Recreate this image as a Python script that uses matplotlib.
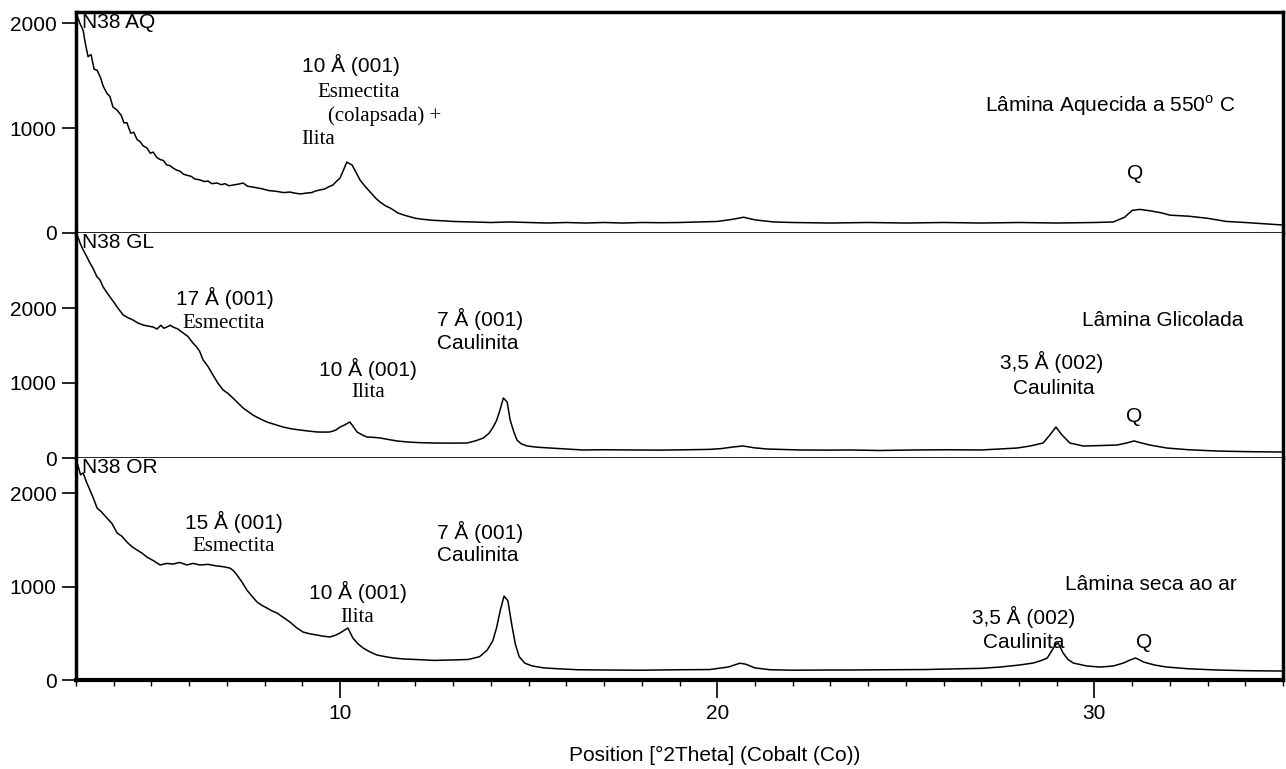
import numpy as np
import matplotlib
matplotlib.use("Agg")
import matplotlib.pyplot as plt
from matplotlib.ticker import MultipleLocator

plt.rcParams['font.family'] = ['Liberation Sans', 'DejaVu Sans']
plt.rcParams['mathtext.fontset'] = 'custom'
plt.rcParams['mathtext.rm'] = 'Liberation Sans'

# --- data ---
# N38 AQ (heated slide, 550 C)
aq_x = [3.00, 3.10, 3.19, 3.25, 3.32, 3.40, 3.48, 3.56, 3.65, 3.72,
        3.82, 3.90, 3.98, 4.09, 4.20, 4.27, 4.35, 4.45, 4.53, 4.62,
        4.70, 4.78, 4.88, 4.97, 5.05, 5.14, 5.23, 5.32, 5.40, 5.50,
        5.57, 5.66, 5.75, 5.85, 5.94, 6.05, 6.15, 6.29, 6.40, 6.50,
        6.60, 6.74, 6.85, 6.95, 7.05, 7.16, 7.30, 7.43, 7.55, 7.65,
        7.80, 7.95, 8.10, 8.22, 8.35, 8.50, 8.67, 8.80, 8.95, 9.12,
        9.25, 9.35, 9.47, 9.60, 9.70, 9.81, 9.90, 10.00, 10.08, 10.18,
        10.25, 10.32, 10.42, 10.53, 10.65, 10.80, 10.95, 11.06, 11.20, 11.33,
        11.45, 11.54, 11.70, 11.85, 12.00, 12.20, 12.50, 12.80, 13.00, 13.50,
        14.00, 14.50, 15.00, 15.50, 16.00, 16.50, 17.00, 17.50, 18.00, 18.50,
        19.00, 19.50, 20.00, 20.40, 20.70, 21.00, 21.50, 22.00, 23.00, 24.00,
        25.00, 26.00, 27.00, 28.00, 29.00, 30.00, 30.50, 30.80, 31.00, 31.20,
        31.50, 31.80, 32.00, 32.50, 33.00, 33.50, 34.00, 35.00]
aq_y = [2100, 2000, 1930, 1800, 1680, 1700, 1560, 1550, 1480, 1400,
        1330, 1300, 1200, 1170, 1120, 1050, 1050, 950, 960, 890,
        870, 830, 810, 760, 770, 720, 700, 690, 650, 640,
        620, 600, 590, 560, 550, 540, 515, 505, 490, 495,
        470, 476, 460, 470, 450, 457, 465, 476, 445, 440,
        430, 420, 405, 400, 395, 385, 390, 380, 372, 381,
        385, 400, 410, 420, 440, 457, 490, 524, 590, 676,
        660, 648, 580, 505, 450, 390, 330, 295, 260, 238,
        210, 190, 170, 155, 140, 130, 120, 115, 110, 105,
        100, 105, 100, 95, 100, 95, 100, 95, 100, 98,
        100, 105, 110, 130, 150, 125, 105, 100, 95, 100,
        95, 100, 95, 100, 95, 100, 105, 150, 215, 225,
        210, 190, 170, 160, 140, 110, 100, 76]

# N38 GL (glycolated slide)
gl_x = [3.00, 3.05, 3.12, 3.19, 3.27, 3.37, 3.45, 3.56, 3.63, 3.72,
        3.80, 3.90, 4.00, 4.09, 4.17, 4.25, 4.38, 4.51, 4.64, 4.78,
        4.90, 5.04, 5.15, 5.25, 5.33, 5.41, 5.50, 5.57, 5.70, 5.84,
        5.97, 6.10, 6.20, 6.28, 6.37, 6.50, 6.63, 6.76, 6.90, 7.03,
        7.16, 7.30, 7.43, 7.56, 7.69, 7.85, 8.06, 8.25, 8.49, 8.70,
        8.94, 9.15, 9.39, 9.55, 9.73, 9.88, 10.00, 10.12, 10.26, 10.35,
        10.45, 10.58, 10.71, 10.90, 11.06, 11.30, 11.51, 11.80, 12.10, 12.47,
        12.90, 13.37, 13.60, 13.80, 13.95, 14.06, 14.15, 14.24, 14.33, 14.43,
        14.51, 14.60, 14.69, 14.80, 14.96, 15.20, 15.57, 16.00, 16.44, 17.00,
        17.77, 18.50, 19.20, 19.80, 20.10, 20.42, 20.68, 21.00, 21.32, 22.19,
        23.00, 23.52, 24.30, 25.20, 26.17, 27.00, 27.95, 28.30, 28.64, 28.82,
        28.98, 29.14, 29.35, 29.70, 30.10, 30.60, 30.85, 31.05, 31.25, 31.47,
        31.92, 32.50, 33.25, 34.00, 34.50, 35.00]
gl_y = [2990, 2947, 2850, 2773, 2700, 2600, 2530, 2413, 2380, 2280,
        2220, 2147, 2080, 2013, 1960, 1907, 1870, 1840, 1800, 1773,
        1760, 1747, 1720, 1770, 1730, 1747, 1770, 1747, 1720, 1667,
        1620, 1533, 1480, 1420, 1307, 1220, 1107, 1000, 907, 860,
        800, 730, 667, 620, 573, 530, 480, 450, 413, 390,
        373, 360, 347, 345, 347, 370, 413, 440, 480, 420,
        347, 310, 280, 275, 267, 245, 227, 213, 205, 200,
        198, 200, 230, 267, 330, 413, 500, 640, 800, 747,
        507, 360, 240, 190, 160, 145, 133, 120, 107, 110,
        107, 105, 110, 115, 125, 147, 160, 135, 120, 107,
        105, 107, 100, 107, 110, 107, 133, 160, 200, 307,
        413, 307, 200, 160, 165, 173, 200, 227, 200, 173,
        133, 110, 93, 85, 82, 80]

# N38 OR (air-dried slide)
or_x = [3.00, 3.05, 3.12, 3.19, 3.28, 3.37, 3.46, 3.56, 3.68, 3.82,
        3.95, 4.09, 4.22, 4.35, 4.48, 4.62, 4.75, 4.88, 5.05, 5.23,
        5.40, 5.57, 5.75, 5.94, 6.10, 6.29, 6.50, 6.74, 6.90, 7.08,
        7.18, 7.27, 7.40, 7.53, 7.66, 7.80, 7.93, 8.06, 8.20, 8.33,
        8.50, 8.67, 8.85, 9.02, 9.20, 9.39, 9.55, 9.73, 9.88, 10.00,
        10.10, 10.21, 10.34, 10.47, 10.61, 10.80, 10.98, 11.20, 11.41, 11.70,
        12.00, 12.50, 13.00, 13.40, 13.70, 13.90, 14.05, 14.15, 14.25, 14.35,
        14.45, 14.55, 14.65, 14.75, 14.90, 15.10, 15.40, 15.80, 16.30, 17.00,
        18.00, 19.00, 19.80, 20.30, 20.60, 20.75, 21.00, 21.40, 22.00, 23.00,
        23.52, 24.50, 25.50, 26.17, 27.00, 27.50, 28.00, 28.38, 28.60, 28.75,
        28.88, 28.96, 29.04, 29.17, 29.30, 29.44, 29.80, 30.16, 30.50, 30.77,
        30.95, 31.09, 31.20, 31.30, 31.60, 31.92, 32.50, 33.25, 34.00, 35.00]
or_y = [2340, 2304, 2200, 2219, 2120, 2036, 1950, 1843, 1800, 1736,
        1680, 1576, 1540, 1479, 1430, 1393, 1360, 1318, 1280, 1233,
        1250, 1243, 1260, 1233, 1250, 1233, 1240, 1222, 1215, 1200,
        1170, 1125, 1050, 965, 900, 836, 800, 772, 740, 718,
        670, 622, 560, 514, 495, 482, 470, 461, 480, 504,
        530, 557, 450, 390, 343, 300, 268, 250, 236, 225,
        220, 210, 215, 220, 250, 320, 420, 560, 750, 900,
        850, 600, 380, 250, 180, 150, 130, 120, 110, 107,
        105, 110, 112, 140, 180, 170, 130, 110, 105, 107,
        107, 110, 112, 118, 125, 139, 160, 182, 210, 236,
        320, 375, 397, 289, 220, 182, 150, 139, 150, 182,
        215, 236, 215, 193, 160, 139, 120, 107, 100, 96]

sample_names = ["N38 AQ", "N38 GL", "N38 OR"]
y_tops = [2105, 3000, 2380]
x_major = [10, 20, 30]

SANS = 'Liberation Sans'
SERIF = 'Liberation Serif'
FS = 15

fig = plt.figure(figsize=(12.86, 7.69), dpi=100)
left, width = 76 / 1286, 1207 / 1286
rows = [(12, 233), (233, 458), (458, 680)]
axes = []
for top_px, bot_px in rows:
    ax = fig.add_axes([left, 1 - bot_px / 769, width, (bot_px - top_px) / 769])
    axes.append(ax)

series = [(aq_x, aq_y), (gl_x, gl_y), (or_x, or_y)]
for i, ax in enumerate(axes):
    xs, ys = series[i]
    ax.plot(xs, ys, color='black', lw=1.1)
    ax.set_xlim(3, 35)
    ax.set_ylim(0, y_tops[i])
    ax.set_yticks([0, 1000, 2000])
    ax.set_yticklabels(['0', '1000', '2000'], fontsize=FS, family=SANS)
    ax.tick_params(axis='y', direction='out', length=10, width=1.2, pad=4)
    ax.spines['left'].set_linewidth(2.5)
    ax.spines['right'].set_linewidth(2.5)
    ax.spines['top'].set_visible(i == 0)
    ax.spines['top'].set_linewidth(2.5)
    ax.spines['bottom'].set_linewidth(3 if i == 2 else 1.2)
    ax.text(3.16, y_tops[i] - 5, sample_names[i], fontsize=FS, family=SANS,
            ha='left', va='top')
    if i < 2:
        ax.set_xticks([])
    else:
        ax.set_xticks(x_major)
        ax.set_xticklabels([str(v) for v in x_major], fontsize=FS, family=SANS)
        ax.xaxis.set_minor_locator(MultipleLocator(1))
        ax.tick_params(axis='x', which='major', direction='out', length=13, width=1.2, pad=4)
        ax.tick_params(axis='x', which='minor', direction='out', length=4, width=1.0)

# peak annotations: (panel, text, x, y, font, ha)
notes = [
    (0, "10 Å (001)", 10.29, 1600, SANS, 'center'),
    (0, "Esmectita", 10.49, 1343, SERIF, 'center'),
    (0, "(colapsada) +", 11.19, 1114, SERIF, 'center'),
    (0, "Ilita", 9.42, 895, SERIF, 'center'),
    (0, "Lâmina Aquecida a 550$^{\\rm o}$ C", 30.41, 1210, SANS, 'center'),
    (0, "Q", 31.08, 571, SANS, 'center'),
    (1, "17 Å (001)", 6.94, 2133, SANS, 'center'),
    (1, "Esmectita", 6.92, 1800, SERIF, 'center'),
    (1, "10 Å (001)", 10.74, 1187, SANS, 'center'),
    (1, "Ilita", 10.75, 867, SERIF, 'center'),
    (1, "7 Å (001)", 12.57, 1853, SANS, 'left'),
    (1, "Caulinita", 12.57, 1533, SANS, 'left'),
    (1, "Lâmina Glicolada", 31.82, 1840, SANS, 'center'),
    (1, "3,5 Å (002)", 28.87, 1280, SANS, 'center'),
    (1, "Caulinita", 28.93, 933, SANS, 'center'),
    (1, "Q", 31.04, 547, SANS, 'center'),
    (2, "15 Å (001)", 7.19, 1693, SANS, 'center'),
    (2, "Esmectita", 7.19, 1436, SERIF, 'center'),
    (2, "10 Å (001)", 10.48, 943, SANS, 'center'),
    (2, "Ilita", 10.46, 675, SERIF, 'center'),
    (2, "7 Å (001)", 12.57, 1586, SANS, 'left'),
    (2, "Caulinita", 12.57, 1340, SANS, 'left'),
    (2, "Lâmina seca ao ar", 31.51, 1029, SANS, 'center'),
    (2, "3,5 Å (002)", 28.12, 675, SANS, 'center'),
    (2, "Caulinita", 28.12, 407, SANS, 'center'),
    (2, "Q", 31.31, 397, SANS, 'center'),
]
for panel, txt, x, y, fam, ha in notes:
    axes[panel].text(x, y, txt, fontsize=FS, family=fam, ha=ha, va='center')

fig.text(715 / 1286, 1 - 755 / 769, "Position [°2Theta] (Cobalt (Co))",
         fontsize=FS, family=SANS, ha='center', va='center')

fig.savefig("out.png", dpi=100)
